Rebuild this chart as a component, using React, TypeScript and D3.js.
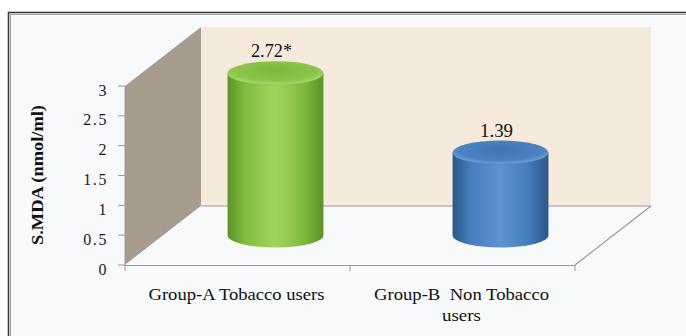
import React from "react";
import * as d3 from "d3";

// Chart data
const categories = ["Group-A Tobacco users", "Group-B  Non Tobacco users"];
const categoryLines = [["Group-A Tobacco users"], ["Group-B  Non Tobacco", "users"]];
const categoryLineWidths = [[176], [175, 39]];
const values = [2.72, 1.39];
const valueLabels = ["2.72*", "1.39"];
const valueLabelWidths = [41, 33];
const yTicks = [0, 0.5, 1, 1.5, 2, 2.5, 3];
const yTitle = "S.MDA (nmol/ml)";

const W = 686;
const H = 336;

// Plot geometry (front plane + oblique depth offset)
const front = { left: 125, right: 575, top: 86, bottom: 265 };
const depth = { dx: 76, dy: -59 };

const palettes = [
  { dark: "#5a9326", mid: "#80bc3e", light: "#a2d45c", capA: "#8cc64a", capB: "#7ab83a", rim: "#a4d466" },
  { dark: "#2a5888", mid: "#467dbd", light: "#5d93d0", capA: "#4c82c2", capB: "#4075b2", rim: "#6699d4" },
];

const serif = { fontFamily: "'Liberation Serif', 'DejaVu Serif', serif" };

export default function App() {
  const y = d3.scaleLinear().domain([0, 3]).range([front.bottom, front.top]);
  const x = d3.scaleBand<string>().domain(categories).range([front.left, front.right]);
  const bw = x.bandwidth();

  // points on the back plane
  const bx = (px: number) => px + depth.dx;
  const by = (py: number) => py + depth.dy;

  const rx = bw * 0.213;
  const ry = 12;

  return (
    <svg width={W} height={H} style={{ position: "absolute", left: 0, top: 0, background: "#ffffff" }}>
      <defs>
        {palettes.map((p, i) => (
          <linearGradient key={i} id={`side${i}`} x1="0" x2="1" y1="0" y2="0">
            <stop offset="0" stopColor={p.dark} />
            <stop offset="0.18" stopColor={p.mid} />
            <stop offset="0.5" stopColor={p.light} />
            <stop offset="0.78" stopColor={p.mid} />
            <stop offset="1" stopColor={p.dark} />
          </linearGradient>
        ))}
        {palettes.map((p, i) => (
          <radialGradient key={i} id={`cap${i}`} cx="0.5" cy="0.4" r="0.6">
            <stop offset="0" stopColor={p.capB} />
            <stop offset="0.72" stopColor={p.capA} />
            <stop offset="0.9" stopColor={p.rim} />
            <stop offset="1" stopColor={p.capA} />
          </radialGradient>
        ))}
      </defs>

      {/* frame */}
      <rect x={8} y={12} width={W} height={H} fill="#f7f9fb" />
      <rect x={8.5} y={12.5} width={W + 10} height={H + 10} fill="none" stroke="#3a3a3a" strokeWidth={1.6} />
      <rect x={10.5} y={14.5} width={W + 10} height={H + 10} fill="none" stroke="#a8a8a8" strokeWidth={1} />

      {/* back wall */}
      <rect
        x={bx(front.left)}
        y={by(front.top)}
        width={front.right - front.left}
        height={front.bottom - front.top}
        fill="#f6eadd"
      />
      {/* side wall */}
      <polygon
        points={[
          [front.left, front.top],
          [bx(front.left), by(front.top)],
          [bx(front.left), by(front.bottom)],
          [front.left, front.bottom],
        ].map((p) => p.join(",")).join(" ")}
        fill="#a89b8f"
      />
      {/* floor */}
      <polygon
        points={[
          [front.left, front.bottom],
          [bx(front.left), by(front.bottom)],
          [bx(front.right), by(front.bottom)],
          [front.right, front.bottom],
        ].map((p) => p.join(",")).join(" ")}
        fill="#f7f9fb"
      />
      <line x1={bx(front.left)} x2={bx(front.right)} y1={by(front.bottom)} y2={by(front.bottom)} stroke="#9a9a9a" strokeWidth={1} />
      <line x1={front.right} x2={bx(front.right)} y1={front.bottom} y2={by(front.bottom)} stroke="#9a9a9a" strokeWidth={1.2} />
      <line x1={front.left} x2={front.right} y1={front.bottom + 0.5} y2={front.bottom + 0.5} stroke="#9a9a9a" strokeWidth={1.2} />
      <line x1={front.left} x2={front.left} y1={front.top} y2={front.bottom} stroke="#9a9a9a" strokeWidth={1} />

      {/* y ticks */}
      {yTicks.map((t) => (
        <g key={t}>
          <line x1={front.left - 7} x2={front.left} y1={y(t)} y2={y(t)} stroke="#9a9a9a" strokeWidth={1} />
          <text
            x={108}
            y={y(t) + 9.5}
            textAnchor="end"
            style={serif}
            fontSize={16}
            letterSpacing={1.6}
            fill="#1a1a1a"
          >
            {String(t)}
          </text>
        </g>
      ))}

      {/* category ticks */}
      {[front.left, front.left + bw, front.right].map((px, i) => (
        <line key={i} x1={px} x2={px} y1={front.bottom} y2={front.bottom + 6} stroke="#9a9a9a" strokeWidth={1} />
      ))}

      {/* cylinders */}
      {categories.map((c, i) => {
        const cx = (x(c) as number) + bw / 2 + depth.dx / 2;
        const base = y(0) + depth.dy / 2;
        const top = y(values[i]) + depth.dy / 2;
        const side = `M${cx - rx},${top} L${cx - rx},${base} A${rx},${ry} 0 0 0 ${cx + rx},${base} L${cx + rx},${top} Z`;
        return (
          <g key={c}>
            <path d={side} fill={`url(#side${i})`} />
            <ellipse cx={cx} cy={top} rx={rx} ry={ry} fill={`url(#cap${i})`} />
            <text
              x={cx - 4}
              y={top - ry - 4}
              textAnchor="middle"
              style={serif}
              fontSize={18}
              textLength={valueLabelWidths[i]}
              lengthAdjust="spacingAndGlyphs"
              fill="#111"
            >
              {valueLabels[i]}
            </text>
          </g>
        );
      })}

      {/* category labels */}
      {categories.map((c, i) => {
        const cx = (x(c) as number) + bw / 2;
        return categoryLines[i].map((line, j) => (
          <text
            key={`${c}-${j}`}
            x={cx - 1}
            y={300 + j * 21}
            textAnchor="middle"
            style={{ ...serif, whiteSpace: "pre" }}
            fontSize={17}
            textLength={categoryLineWidths[i][j]}
            lengthAdjust="spacingAndGlyphs"
            fill="#111"
          >
            {line}
          </text>
        ));
      })}

      {/* y axis title */}
      <text
        transform={`translate(43, 175) rotate(-90)`}
        textAnchor="middle"
        style={serif}
        fontSize={16}
        fontWeight="bold"
        textLength={140}
        lengthAdjust="spacingAndGlyphs"
        fill="#111"
      >
        {yTitle}
      </text>
    </svg>
  );
}
